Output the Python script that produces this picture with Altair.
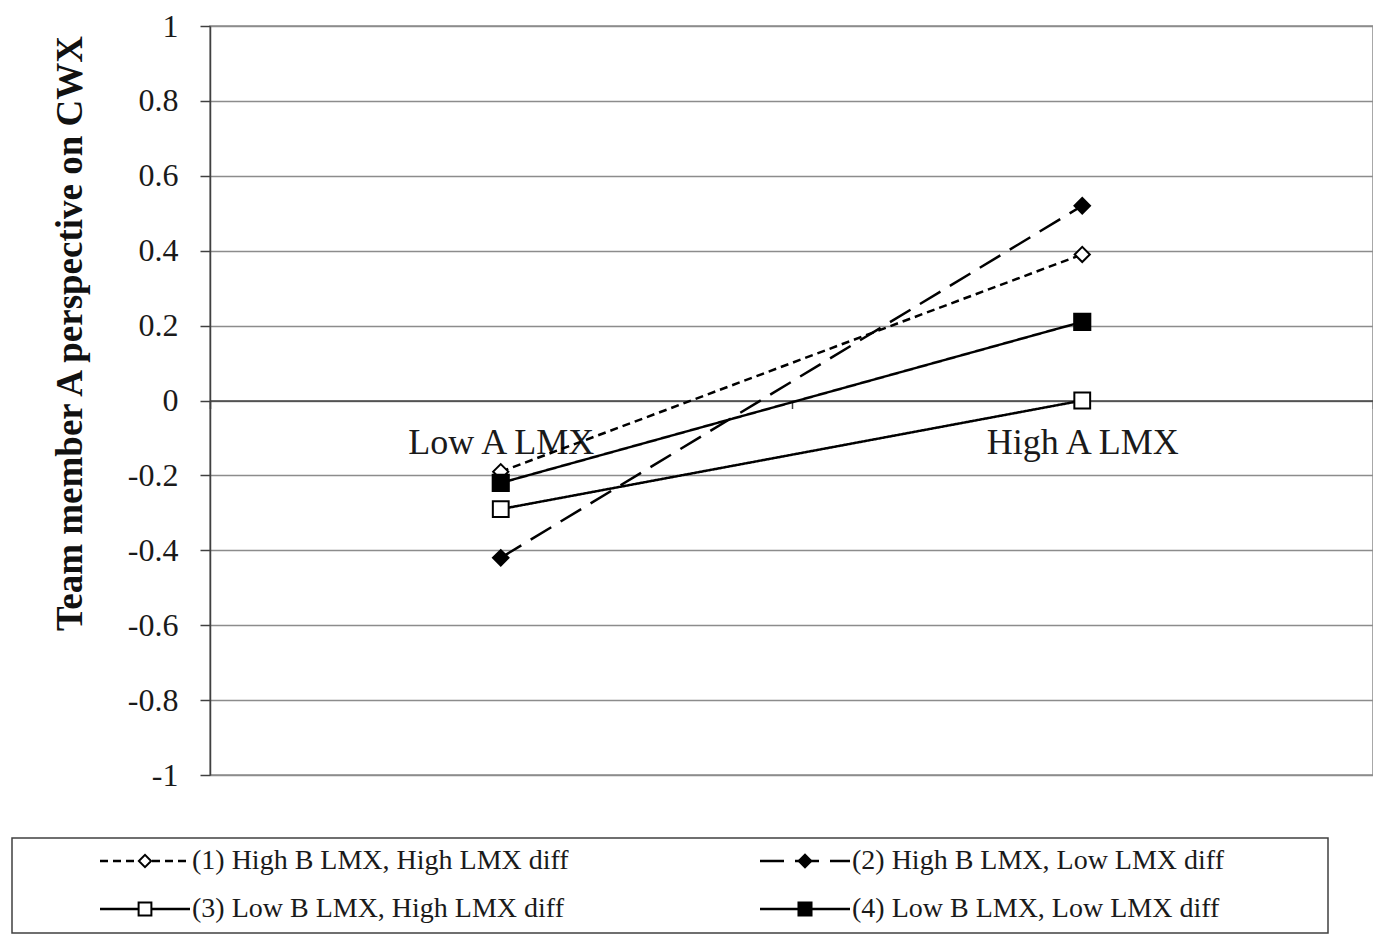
import altair as alt
import pandas as pd

categories = ["Low A LMX", "High A LMX"]
series = [
    "(1) High B LMX, High LMX diff",
    "(2) High B LMX, Low LMX diff",
    "(3) Low B LMX, High LMX diff",
    "(4) Low B LMX, Low LMX diff",
]
low_values = [-0.19, -0.42, -0.29, -0.22]
high_values = [0.39, 0.52, 0.00, 0.21]
y_tick_values = [-1.0, -0.8, -0.6, -0.4, -0.2, 0.0, 0.2, 0.4, 0.6, 0.8, 1.0]
y_title = "Team member  A perspective on CWX"

rows = []
for i, s in enumerate(series):
    rows.append({"cat": categories[0], "series": s, "value": low_values[i]})
    rows.append({"cat": categories[1], "series": s, "value": high_values[i]})
df = pd.DataFrame(rows)

legend_df = pd.DataFrame({
    "series": series,
    "col": [i % 2 for i in range(len(series))],
    "row": [i // 2 for i in range(len(series))],
})
box_df = pd.DataFrame({"a": [0], "b": [1]})

TOP = 18
W, H = 1163, 775 - 8 - TOP
FONT = "Liberation Serif"
dash_range = [[8, 5], [24, 11], [1, 0], [1, 0]]
shape_range = ["diamond", "diamond", "square", "square"]
fill_range = ["white", "black", "white", "black"]
size_range = [230, 260, 300, 300]
legend_size_range = [150, 170, 170, 170]

x_enc = alt.X(
    "cat:N", sort=categories,
    scale=alt.Scale(type="band", domain=categories, paddingInner=0, paddingOuter=0),
    axis=alt.Axis(title=None, orient="bottom", offset=-H / 2, domainColor="#404040",
                  domainWidth=1.5, ticks=True, tickBand="extent", tickSize=8,
                  tickColor="#404040", tickWidth=1.5, labelFont=FONT, labelFontSize=36,
                  labelColor="#1a1a1a", labelPadding=17, labelAngle=0, labelLimit=0,
                  grid=False),
)
y_enc = alt.Y(
    "value:Q",
    scale=alt.Scale(domain=[-1, 1], nice=False, zero=False),
    axis=alt.Axis(values=y_tick_values, labelExpr="toString(datum.value)",
                  title=y_title, titleFont=FONT, titleFontSize=37, titleFontWeight="bold",
                  titleColor="#111111", titleX=-140, titleY=333 - 8 - TOP, titleAngle=270,
                  titleAlign="center", titleBaseline="middle", titleLimit=0,
                  domainColor="#404040", domainWidth=1.5, tickColor="#404040",
                  tickWidth=1.5, tickSize=10, labelFont=FONT, labelFontSize=32,
                  labelColor="#1a1a1a", labelPadding=22, grid=True,
                  gridColor="#8c8c8c", gridWidth=1.5),
)

dash_scale = alt.Scale(domain=series, range=dash_range)
shape_scale = alt.Scale(domain=series, range=shape_range)
fill_scale = alt.Scale(domain=series, range=fill_range)

lines = alt.Chart(df).mark_line(color="black", strokeWidth=2.5).encode(
    x=x_enc, y=y_enc,
    strokeDash=alt.StrokeDash("series:N", scale=dash_scale, legend=None),
    detail="series:N",
)
points = alt.Chart(df).mark_point(filled=True, opacity=1, stroke="black", strokeWidth=2).encode(
    x=x_enc, y=y_enc,
    shape=alt.Shape("series:N", scale=shape_scale, legend=None),
    fill=alt.Fill("series:N", scale=fill_scale, legend=None),
    size=alt.Size("series:N", scale=alt.Scale(domain=series, range=size_range), legend=None),
    order=alt.Order("series:N"),
)
main = alt.layer(lines, points)

OX, OY = 210, 8 + TOP
lx = alt.X("col:Q", scale=alt.Scale(domain=[0, 1], range=[145 - OX, 805 - OX]), axis=None)
ly = alt.Y("row:Q", scale=alt.Scale(domain=[0, 1], range=[861 - OY, 909 - OY]), axis=None)

leg_rules = alt.Chart(legend_df).mark_rule(color="black", strokeWidth=2.5, xOffset=-45, x2Offset=45).encode(
    x=lx, x2="col:Q", y=ly,
    strokeDash=alt.StrokeDash("series:N", scale=dash_scale, legend=None),
)
leg_points = alt.Chart(legend_df).mark_point(filled=True, opacity=1, stroke="black", strokeWidth=2).encode(
    x=lx, y=ly,
    shape=alt.Shape("series:N", scale=shape_scale, legend=None),
    fill=alt.Fill("series:N", scale=fill_scale, legend=None),
    size=alt.Size("series:N", scale=alt.Scale(domain=series, range=legend_size_range), legend=None),
)
leg_text = alt.Chart(legend_df).mark_text(align="left", baseline="middle", dx=47, font=FONT,
                                          fontSize=28, color="#1a1a1a").encode(
    x=lx, y=ly, text="series:N",
)
legend = alt.layer(leg_rules, leg_points, leg_text)

box = alt.Chart(box_df).mark_rect(fill="transparent", stroke="#404040", strokeWidth=1.5).encode(
    x=alt.X("a:Q", scale=alt.Scale(domain=[0, 1], range=[12 - OX, 1328 - OX]), axis=None),
    x2="b:Q",
    y=alt.Y("a:Q", scale=alt.Scale(domain=[0, 1], range=[838 - OY, 933 - OY]), axis=None),
    y2="b:Q",
)

chart = alt.layer(main, legend, box).resolve_scale(
    x="independent", y="independent", strokeDash="independent",
    shape="independent", fill="independent", size="independent",
).properties(
    width=W, height=H,
    autosize=alt.AutoSizeParams(type="none"),
    padding={"left": 202, "top": TOP, "right": 0, "bottom": 160},
    background="white",
).configure_view(stroke="#8c8c8c", strokeWidth=1.5)

chart.save("out.html", embed_options={"renderer": "svg", "actions": False})
